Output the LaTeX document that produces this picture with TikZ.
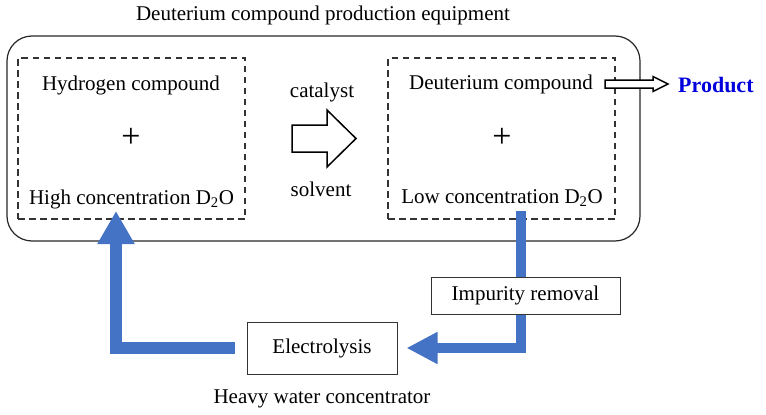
\documentclass[tikz,border=0pt]{standalone}
\usepackage{fontspec}
\setmainfont{Liberation Serif}
\usetikzlibrary{arrows.meta}
\definecolor{flowblue}{RGB}{68,114,196}
\definecolor{prodblue}{RGB}{0,0,220}
\begin{document}
\begin{tikzpicture}[x=1pt,y=-1pt,
  lbl/.style={font=\fontsize{21}{25}\selectfont, inner sep=0pt, anchor=base},
  plus/.style={font=\fontsize{34}{36}\selectfont, inner sep=0pt},
  dashbox/.style={draw=black!80, line width=1.4pt, dash pattern=on 6.5pt off 4.5pt, minimum width=227pt, minimum height=161pt, inner sep=0pt},
  plainbox/.style={draw=black!80, line width=1pt, fill=white, font=\fontsize{21}{25}\selectfont, inner sep=0pt},
  flow/.style={draw=flowblue, line join=miter},
  hollow/.style={draw=black, fill=white, line width=1.5pt, line join=miter}
]
\useasboundingbox (0,0) rectangle (766,415);
% title
\node[lbl] (title) at (323,20) {Deuterium compound production equipment};
% outer equipment box
\node[draw=black!85, line width=1.2pt, rounded corners=25pt, minimum width=633pt, minimum height=205pt, inner sep=0pt] (equip) at (323.5,138.5) {};
% dashed boxes
\node[dashbox] (left) at (131.5,138.5) {};
\node[dashbox] (right) at (501.5,138.5) {};
% left box texts
\node[lbl] (hyd) at (131,90) {Hydrogen compound};
\node[plus] (plusL) at (131,138) {+};
\node[lbl] (high) at (131.5,204) {High concentration D\textsubscript{2}O};
% middle
\node[lbl] (cat) at (322,97) {catalyst};
\draw[hollow] (292,125) -- (327,125) -- (327,110) -- (356,138.5) -- (327,167) -- (327,152) -- (292,152) -- cycle;
\node[lbl] (solv) at (321,196) {solvent};
% right box texts
\node[lbl] (deu) at (501,89) {Deuterium compound};
\node[plus] (plusR) at (502,138) {+};
\node[lbl] (low) at (502,203) {Low concentration D\textsubscript{2}O};
% product arrow
\draw[hollow] (605,80) -- (653,80) -- (653,76.5) -- (668,84) -- (653,91.5) -- (653,88) -- (605,88) -- cycle;
\node[lbl, anchor=base west, font=\fontsize{22}{26}\selectfont\bfseries, text=prodblue] (prod) at (678,92) {Product};
% bottom boxes
\node[plainbox, minimum width=150pt, minimum height=52pt] (elec) at (322,348) {Electrolysis};
\coordinate (ltip) at (116,211);
\coordinate (rtop) at (521,211);
\draw[flow, line width=12pt, -{Triangle[width=35pt,length=33pt]}, shorten <=12pt] (elec.west) -| (ltip);
\draw[flow, line width=10pt, -{Triangle[width=30pt,length=31pt]}, shorten >=9pt] (rtop) |- (elec.east);
\node[plainbox, minimum width=189pt, minimum height=37pt] (imp) at (525.5,295.5) {Impurity removal};
\node[lbl] (heavy) at (322,403) {Heavy water concentrator};
\end{tikzpicture}
\end{document}
